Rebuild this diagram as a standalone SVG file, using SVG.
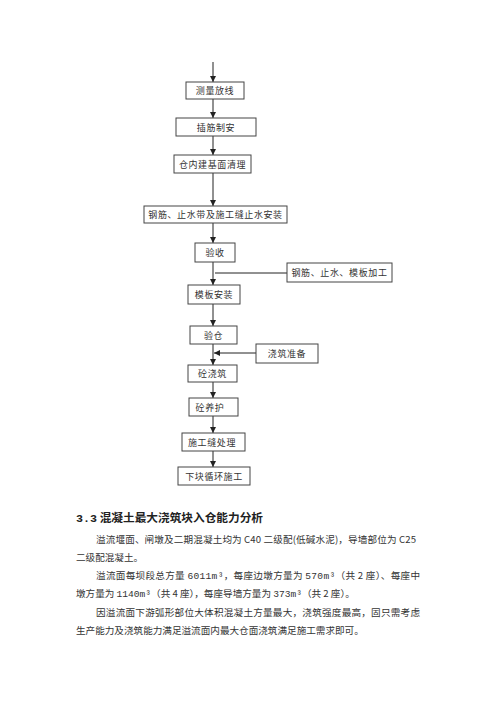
<svg xmlns="http://www.w3.org/2000/svg" width="500" height="707" viewBox="0 0 500 707">
<defs>
<marker id="ah" markerUnits="userSpaceOnUse" markerWidth="6" markerHeight="6" refX="6" refY="3" orient="auto">
<path d="M0,0 L6,3 L0,6 z" fill="#222"/>
</marker>
<style>
.box{fill:#fff;stroke:#444;stroke-width:1}
.bt{font-family:"Noto Sans CJK SC","Noto Sans",sans-serif;font-size:9px;fill:#333;text-anchor:middle;letter-spacing:0.6px}
.ln{stroke:#222;stroke-width:1;fill:none}
.body{font-family:"Noto Sans CJK SC","Noto Sans",sans-serif;font-size:9.6px;fill:#333}
.mono{font-family:"Liberation Mono",monospace}
.hd{font-family:"Noto Sans CJK SC","Noto Sans",sans-serif;font-size:11.5px;font-weight:bold;fill:#222}
</style>
</defs>
<rect width="500" height="707" fill="#fff"/>
<g id="connectors">
<line class="ln" x1="213" y1="62" x2="213" y2="82" marker-end="url(#ah)"/>
<line class="ln" x1="213" y1="99" x2="213" y2="118" marker-end="url(#ah)"/>
<line class="ln" x1="213" y1="136" x2="213" y2="155" marker-end="url(#ah)"/>
<line class="ln" x1="213" y1="173" x2="213" y2="206" marker-end="url(#ah)"/>
<line class="ln" x1="213" y1="223" x2="213" y2="243" marker-end="url(#ah)"/>
<line class="ln" x1="213" y1="262" x2="213" y2="285" marker-end="url(#ah)"/>
<line class="ln" x1="215" y1="273" x2="287" y2="273"/>
<line class="ln" x1="213" y1="304" x2="213" y2="326" marker-end="url(#ah)"/>
<line class="ln" x1="213" y1="344" x2="213" y2="365" marker-end="url(#ah)"/>
<line class="ln" x1="256" y1="353" x2="214" y2="353" marker-end="url(#ah)"/>
<line class="ln" x1="213" y1="382" x2="213" y2="398" marker-end="url(#ah)"/>
<line class="ln" x1="213" y1="416" x2="213" y2="433" marker-end="url(#ah)"/>
<line class="ln" x1="213" y1="451" x2="213" y2="467" marker-end="url(#ah)"/>
</g>
<g id="n1"><rect class="box" x="186" y="82" width="58" height="17"/><text class="bt" x="215" y="94">测量放线</text></g>
<g id="n2"><rect class="box" x="176" y="118" width="80" height="18"/><text class="bt" x="216" y="130.5">插筋制安</text></g>
<g id="n3"><rect class="box" x="174" y="155" width="77" height="18"/><text class="bt" x="212.5" y="167.5">仓内建基面清理</text></g>
<g id="n4"><rect class="box" x="144" y="206" width="143" height="17"/><text class="bt" x="215.5" y="218">钢筋、止水带及施工缝止水安装</text></g>
<g id="n5"><rect class="box" x="195" y="243" width="40" height="19"/><text class="bt" x="215" y="256">验收</text></g>
<g id="n6"><rect class="box" x="287" y="263" width="105" height="19"/><text class="bt" x="339.5" y="276">钢筋、止水、模板加工</text></g>
<g id="n7"><rect class="box" x="188" y="285" width="52" height="19"/><text class="bt" x="214" y="298">模板安装</text></g>
<g id="n8"><rect class="box" x="190" y="326" width="47" height="18"/><text class="bt" x="213.5" y="338.5">验仓</text></g>
<g id="n9"><rect class="box" x="256" y="344" width="62" height="19"/><text class="bt" x="287" y="357">浇筑准备</text></g>
<g id="n10"><rect class="box" x="188" y="365" width="49" height="17"/><text class="bt" x="212.5" y="377">砼浇筑</text></g>
<g id="n11"><rect class="box" x="189" y="398" width="49" height="18"/><text class="bt" x="210" y="410.5">砼养护</text></g>
<g id="n12"><rect class="box" x="182" y="433" width="63" height="18"/><text class="bt" x="212" y="445.5">施工缝处理</text></g>
<g id="n13"><rect class="box" x="178" y="467" width="72" height="18"/><text class="bt" x="214" y="479.5">下块循环施工</text></g>
<g id="text">
<text class="hd" x="76" y="522" textLength="187" lengthAdjust="spacingAndGlyphs"><tspan class="mono">3.3</tspan> 混凝土最大浇筑块入仓能力分析</text>
<text class="body" x="96" y="543" textLength="320" lengthAdjust="spacing">溢流堰面、闸墩及二期混凝土均为 C40 二级配(低碱水泥)，导墙部位为 C25</text>
<text class="body" x="76" y="561">二级配混凝土。</text>
<text class="body" x="96" y="579" textLength="324" lengthAdjust="spacing">溢流面每坝段总方量 <tspan class="mono">6011m³</tspan>，每座边墩方量为 <tspan class="mono">570m³</tspan>（共 2 座）、每座中</text>
<text class="body" x="76" y="597">墩方量为 <tspan class="mono">1140m³</tspan>（共 4 座），每座导墙方量为 <tspan class="mono">373m³</tspan>（共 2 座）。</text>
<text class="body" x="96" y="616" textLength="324" lengthAdjust="spacing">因溢流面下游弧形部位大体积混凝土方量最大，浇筑强度最高，固只需考虑</text>
<text class="body" x="76" y="634">生产能力及浇筑能力满足溢流面内最大仓面浇筑满足施工需求即可。</text>
</g>
</svg>
